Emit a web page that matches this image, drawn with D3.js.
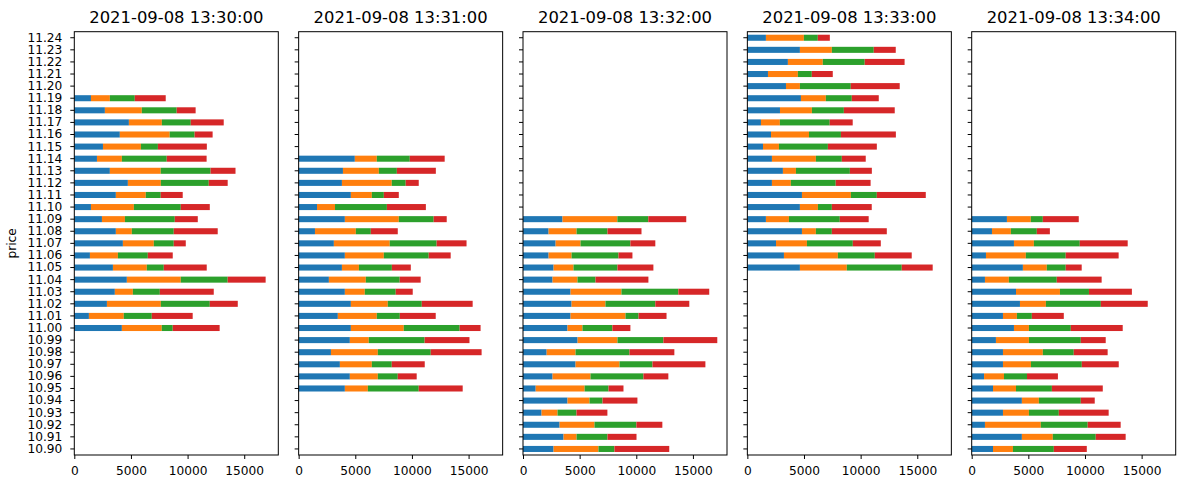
<!doctype html>
<html>
<head>
    <meta charset="UTF-8">
    <script src="https://d3js.org/d3.v7.min.js"></script>
    <title></title>
</head>

<body style="margin:0">

<style>

    text {
        font-family: "DejaVu Sans", sans-serif;
        fill: #000000;
    }
    .tick line, .domain {
        stroke: #000;
    }

</style>


<div id="graph"></div>

<script>
    // price levels, top to bottom
    var prices = ["11.24","11.23","11.22","11.21","11.20","11.19","11.18","11.17","11.16","11.15",
                  "11.14","11.13","11.12","11.11","11.10","11.09","11.08","11.07","11.06","11.05",
                  "11.04","11.03","11.02","11.01","11.00","10.99","10.98","10.97","10.96","10.95",
                  "10.94","10.93","10.92","10.91","10.90"];

    var times = ["2021-09-08 13:30:00","2021-09-08 13:31:00","2021-09-08 13:32:00",
                 "2021-09-08 13:33:00","2021-09-08 13:34:00"];

    var xticks = [0, 5000, 10000, 15000];
    var colors = ["#1f77b4", "#ff7f0e", "#2ca02c", "#d62728"];

    // rows: price, then the 4 stacked series
    var t1330 = [
        ["11.19",1470,1670,2200,2730],["11.18",2700,3260,3080,1670],["11.17",4820,2910,2550,2910],
        ["11.16",4020,4400,2200,1590],["11.15",2530,3350,1500,4320],["11.14",2000,2200,3960,3520],
        ["11.13",3140,4490,4400,2200],["11.12",4730,2910,4230,1670],["11.11",3670,2640,1320,1940],
        ["11.10",1470,3790,4140,2560],["11.09",2440,2030,4400,2030],["11.08",3670,1410,3700,3880],
        ["11.07",4290,2730,1760,1060],["11.06",1380,2470,2640,2200],["11.05",3410,2990,1500,3790],
        ["11.04",4640,4760,4140,3350],["11.03",3580,1590,2380,4760],["11.02",2880,4760,4320,2470],
        ["11.01",1290,3080,2470,3610],["11.00",4200,3520,970,4140]
    ];
    var t1331 = [
        ["11.14",4960,1940,2910,3080],["11.13",3910,3170,1590,3440],["11.12",3820,4400,1230,1150],
        ["11.11",4610,1850,1060,1320],["11.10",1620,1590,4580,3440],["11.09",4080,4760,3080,1150],
        ["11.08",1440,3610,1320,2380],["11.07",3110,4930,4140,2640],["11.06",4080,3440,3960,1940],
        ["11.05",3820,1500,2910,1670],["11.04",2670,3260,2990,1850],["11.03",4080,1760,2730,1500],
        ["11.02",4610,3260,3000,4490],["11.01",3460,3440,2030,3170],["11.00",4610,4670,4930,1850],
        ["10.99",4520,1670,4930,3960],["10.98",2850,4140,4670,4490],["10.97",3640,2820,1760,2910],
        ["10.96",4520,2470,1760,1670],["10.95",4080,2030,4490,3880]
    ];
    var t1332 = [
        ["11.09",3490,4840,2730,3350],["11.08",2260,2470,2730,3000],["11.07",2880,2200,4400,2200],
        ["11.06",2260,2030,4140,1230],["11.05",2700,1760,3880,3170],["11.04",2610,2200,1590,4670],
        ["11.03",4200,4490,5020,2730],["11.02",4290,2990,4400,3000],["11.01",4200,4850,1150,2470],
        ["11.00",3930,1320,2640,1590],["10.99",4820,3520,4050,4760],["10.98",2090,2550,4760,3960],
        ["10.97",4640,3880,2910,4670],["10.96",2610,3350,4670,2200],["10.95",1120,4320,2110,1320],
        ["10.94",3930,1940,1150,3080],["10.93",1640,1410,1670,2730],["10.92",3230,3080,3700,2290],
        ["10.91",3580,1150,2730,2560],["10.90",2700,3960,1410,4840]
    ];
    var t1333 = [
        ["11.24",1640,3350,1230,1060],["11.23",4640,2820,3700,1940],["11.22",3580,3080,3700,3520],
        ["11.21",1820,2640,1230,1850],["11.20",3410,1230,4490,4320],["11.19",4730,2200,2290,2380],
        ["11.18",2880,2820,2820,4490],["11.17",1200,1670,4400,2030],["11.16",2090,3350,2820,4850],
        ["11.15",1380,1410,4320,4320],["11.14",2170,3880,2290,2110],["11.13",3140,1150,4760,1940],
        ["11.12",2170,1670,3960,3080],["11.11",4820,4320,2290,4320],["11.10",4640,1590,1230,3520],
        ["11.09",1640,2030,4490,2550],["11.08",4820,1230,1410,4850],["11.07",2530,2730,4050,2470],
        ["11.06",3230,4760,3260,3260],["11.05",4640,4140,4850,2730]
    ];
    var t1334 = [
        ["11.09",3110,2110,1060,3170],["11.08",1790,1670,2290,1150],["11.07",3730,1760,4050,4230],
        ["11.06",1260,3520,3520,4670],["11.05",4520,2110,1670,1410],["11.04",1170,2110,4230,3960],
        ["11.03",3910,3880,2560,3790],["11.02",4260,2290,4850,4140],["11.01",2760,1230,1320,2820],
        ["11.00",3730,1320,3700,4580],["10.99",2140,2910,4580,2200],["10.98",2760,3520,2730,2990],
        ["10.97",2760,2470,4490,3260],["10.96",1090,1760,2030,2730],["10.95",1880,2030,3170,4490],
        ["10.94",4430,1500,3700,1230],["10.93",2760,2290,2640,4400],["10.92",1170,4930,4140,2910],
        ["10.91",4430,2730,3790,2640],["10.90",1880,1760,3610,2910]
    ];

    var panels = [t1330, t1331, t1332, t1333, t1334];

    var w = 1181, h = 484;
    var padLeft = 74.3, padTop = 31.7, pw = 204, ph = 423.3, gap = 224.35;

    var vis = d3.select("#graph")
            .append("svg")
            .attr("width", w)
            .attr("height", h)
            .style("background-color", "#fff");

    // shared x range (pandas adds 5% on the right)
    var maxTotal = d3.max(panels, function(p) {
        return d3.max(p, function(r) { return r[1] + r[2] + r[3] + r[4]; });
    });
    var x = d3.scaleLinear().domain([0, maxTotal * 1.05]).range([0, pw]);
    var y = d3.scaleBand().domain(prices).range([0, ph]).paddingInner(0.5).paddingOuter(0.25);

    panels.forEach(function(rows, pi) {
        var g = vis.append("g")
                .attr("transform", "translate(" + (padLeft + pi * gap) + "," + padTop + ")");

        // stacked segments
        var stacked = d3.stack().keys([1, 2, 3, 4])(rows);
        stacked.forEach(function(layer, k) {
            g.selectAll(".s" + k)
                    .data(layer)
                    .enter()
                    .append("rect")
                    .attr("class", "s" + k)
                    .attr("x", function(d) { return x(d[0]); })
                    .attr("width", function(d) { return x(d[1]) - x(d[0]); })
                    .attr("y", function(d) { return y(d.data[0]); })
                    .attr("height", y.bandwidth())
                    .attr("fill", colors[k]);
        });

        var yAxis = d3.axisLeft(y).tickSize(4).tickPadding(8);
        if (pi > 0) yAxis.tickFormat("");
        var ya = g.append("g").call(yAxis);
        ya.selectAll("text").style("font-size", "12.2px");
        ya.select(".domain").remove();

        var xa = g.append("g")
                .attr("transform", "translate(0," + ph + ")")
                .call(d3.axisBottom(x).tickValues(xticks).tickFormat(d3.format("d")).tickSize(4).tickPadding(7));
        xa.selectAll("text").style("font-size", "12.2px");
        xa.select(".domain").remove();

        // frame
        g.append("rect")
                .attr("width", pw)
                .attr("height", ph)
                .attr("fill", "none")
                .attr("stroke", "#000")
                .attr("stroke-width", 1);

        g.append("text")
                .attr("x", pw / 2)
                .attr("y", -8.4)
                .attr("text-anchor", "middle")
                .style("font-size", "16.4px")
                .text(times[pi]);
    });

    vis.append("text")
            .attr("transform", "translate(16," + (padTop + ph / 2) + ") rotate(-90)")
            .attr("text-anchor", "middle")
            .style("font-size", "12.2px")
            .text("price");

</script>

</body>
</html>
